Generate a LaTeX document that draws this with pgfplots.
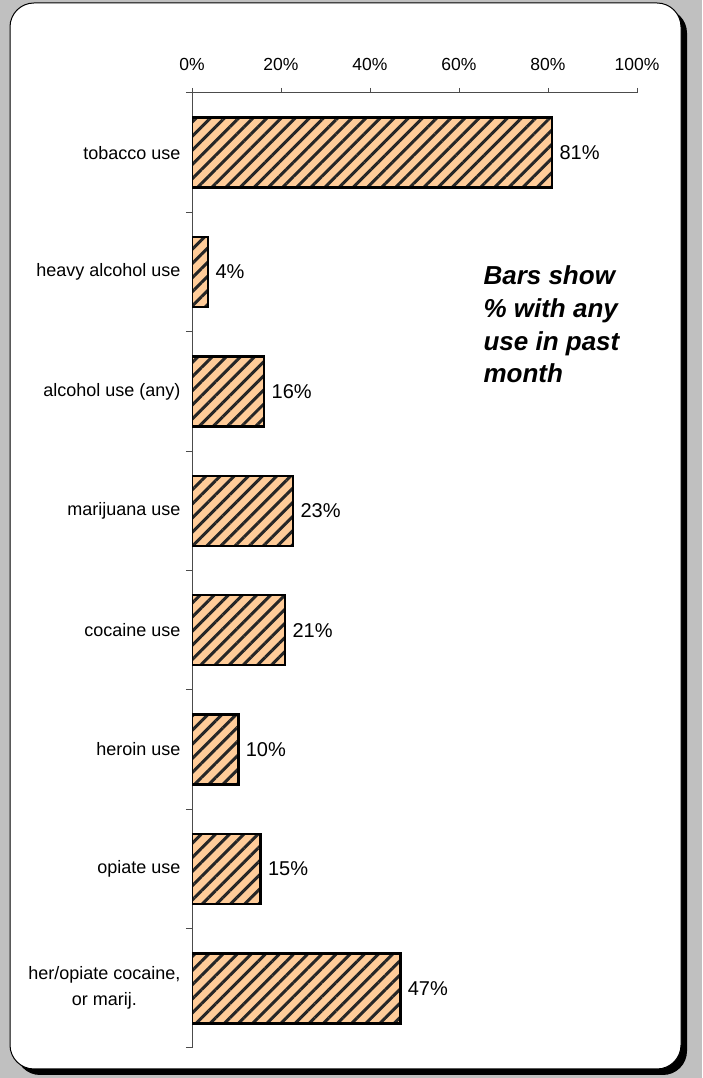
\documentclass[border=0pt]{standalone}
\usepackage{fontspec}
\setmainfont{Liberation Sans}
\usepackage{pgfplots}
\pgfplotsset{compat=1.18}
\usetikzlibrary{patterns.meta}
\definecolor{barfill}{HTML}{FFCC99}
\definecolor{bggray}{HTML}{C0C0C0}
\begin{document}
\begin{tikzpicture}[x=1pt,y=1pt]
% frame
\fill[bggray] (0,0) rectangle (702,1078);
\fill[black, rounded corners=24pt] (16,3) rectangle (687,1069);
\filldraw[fill=white, draw=black, line width=1pt, rounded corners=24pt] (10,9) rectangle (681,1075);
\begin{axis}[
  at={(192pt,30pt)}, anchor=south west,
  scale only axis, width=445pt, height=955pt,
  xbar, bar width=70pt,
  xmin=0, xmax=100, ymin=-0.5, ymax=7.5,
  axis x line*=top, axis y line*=left,
  axis line style={black!70, line width=1pt},
  tick align=outside,
  major tick length=5pt, minor tick length=6pt,
  xtick={0,20,...,100},
  xticklabel={\pgfmathprintnumber{\tick}\%},
  /pgf/number format/assume math mode=true,
  major x tick style={black!70, line width=1pt},
  ytick={0,...,7},
  yticklabels={{her/opiate cocaine,\\or marij.}, opiate use, heroin use, cocaine use,
    marijuana use, alcohol use (any), heavy alcohol use, tobacco use},
  major y tick style={draw=none},
  minor ytick={-0.5,0.5,...,7.5},
  minor y tick style={black!70, line width=1pt},
  yticklabel style={align=center, font=\fontsize{18}{26}\selectfont, xshift=-3pt},
  xticklabel style={font=\fontsize{17.5}{20}\selectfont, yshift=14pt},
  nodes near coords={\fontsize{20}{24}\selectfont\pgfmathprintnumber[fixed,precision=0]{\pgfplotspointmeta}\%},
  nodes near coords align=horizontal,
  every node near coord/.append style={black, xshift=3pt},
]
\addplot[draw=black, line width=2.5pt, preaction={fill=barfill},
  pattern={Lines[angle=45,distance=10pt,line width=3pt]}, pattern color=black!85]
  coordinates {(46.8,0) (15.4,1) (10.4,2) (20.9,3) (22.7,4) (16.2,5) (3.6,6) (80.9,7)};
\end{axis}
\node[anchor=base west, align=left, font=\fontsize{26}{32.7}\selectfont\bfseries\itshape]
  at (480,695) {Bars show\\\% with any\\use in past\\month};
\end{tikzpicture}
\end{document}
